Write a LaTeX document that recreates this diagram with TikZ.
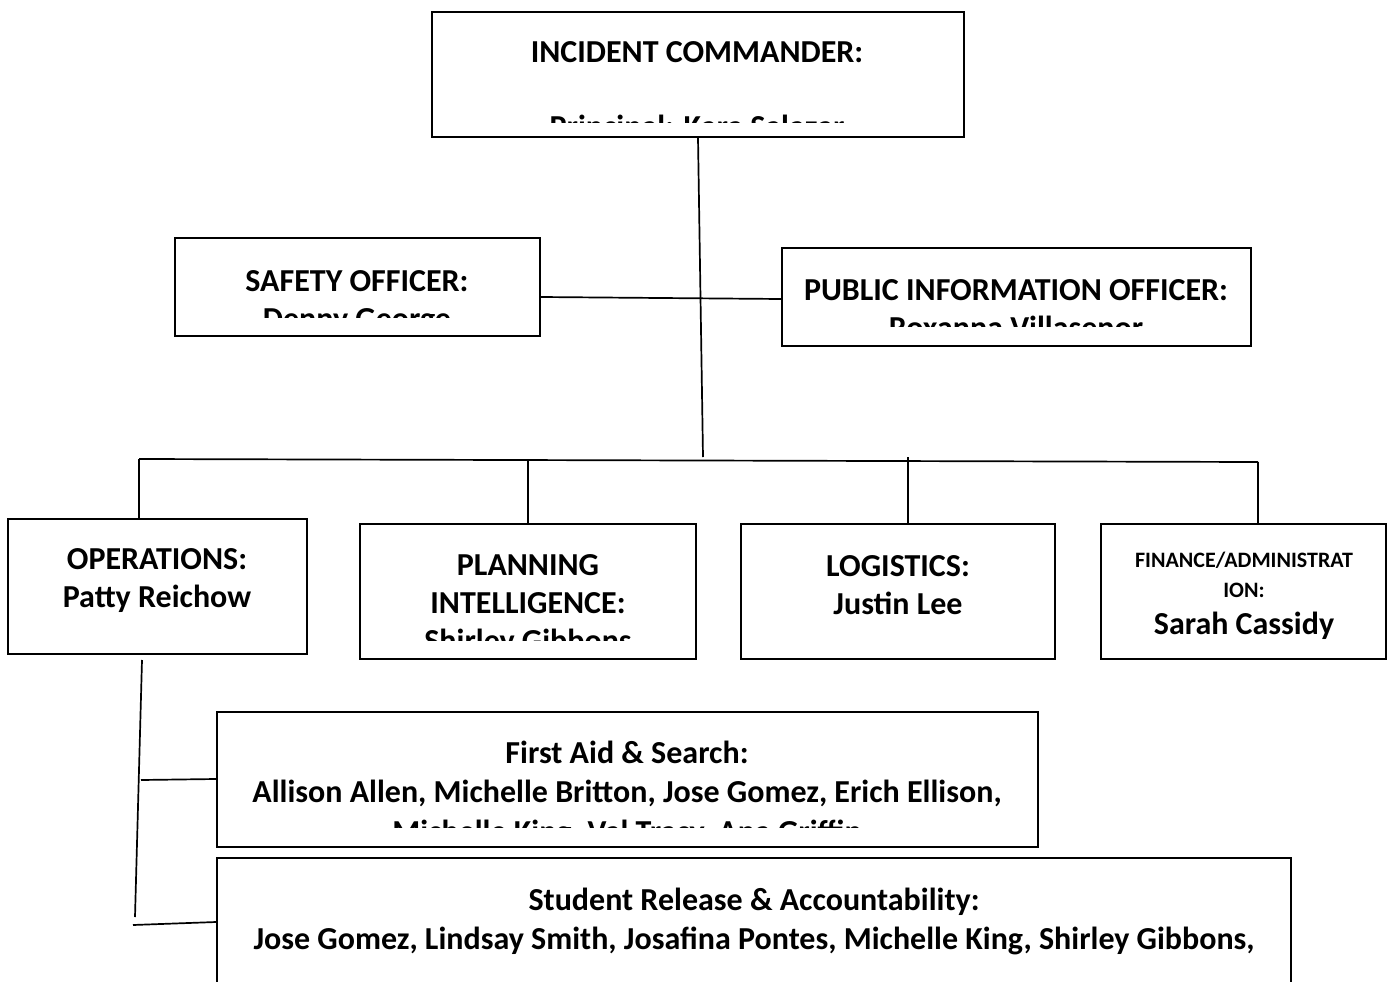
\documentclass[tikz,border=0pt]{standalone}
\usepackage{fontspec}
\setmainfont{Carlito}
\begin{document}
\begin{tikzpicture}[x=1pt,y=-1pt,
  box/.style={draw=black, line width=1.7pt, rectangle, inner sep=0pt},
  conn/.style={draw=black, line width=1.7pt},
  txt/.style={anchor=base, inner sep=0pt, font=\fontsize{32}{38}\selectfont\bfseries},
  smalltxt/.style={anchor=base, inner sep=0pt, font=\fontsize{22}{26}\selectfont\bfseries}]
\clip (0,0) rectangle (1387,982);
\fill[white] (0,0) rectangle (1387,982);

% boxes
\node[box, minimum width=532pt, minimum height=125pt] (ic) at (698,74.5) {};
\node[box, minimum width=365pt, minimum height=98pt] (safety) at (357.5,287) {};
\node[box, minimum width=469pt, minimum height=98pt] (pio) at (1016.5,297) {};
\node[box, minimum width=299pt, minimum height=135pt] (ops) at (157.5,586.5) {};
\node[box, minimum width=336pt, minimum height=135pt] (plan) at (528,591.5) {};
\node[box, minimum width=314pt, minimum height=135pt] (log) at (898,591.5) {};
\node[box, minimum width=285pt, minimum height=135pt] (fin) at (1243.5,591.5) {};
\node[box, minimum width=821pt, minimum height=135pt] (aid) at (627.5,779.5) {};
\node[box, minimum width=1074pt, minimum height=142pt] (stu) at (754,929) {};

% texts
\node[txt] (ic1) at (697,63) {INCIDENT COMMANDER:};
\begin{scope}
\clip (432,12) rectangle (964,122);
\node[txt] (ic2) at (697,137) {Principal: Kara Salazar};
\end{scope}

\node[txt] (sa1) at (357,291) {SAFETY OFFICER:};
\begin{scope}
\clip (175,238) rectangle (540,317);
\node[txt] (sa2) at (357,329) {Denny George};
\end{scope}

\node[txt] (pi1) at (1016,300) {PUBLIC INFORMATION OFFICER:};
\begin{scope}
\clip (782,248) rectangle (1251,326);
\node[txt] (pi2) at (1016,338) {Roxanna Villasenor};
\end{scope}

\node[txt] (op1) at (157,569) {OPERATIONS:};
\node[txt] (op2) at (157,607) {Patty Reichow};

\node[txt] (pl1) at (528,575) {PLANNING};
\node[txt] (pl2) at (528,613) {INTELLIGENCE:};
\begin{scope}
\clip (360,524) rectangle (696,640);
\node[txt] (pl3) at (528,651) {Shirley Gibbons};
\end{scope}

\node[txt] (lo1) at (898,576) {LOGISTICS:};
\node[txt] (lo2) at (898,614) {Justin Lee};

\node[smalltxt] (fi1) at (1244,567) {FINANCE/ADMINISTRAT};
\node[smalltxt] (fi2) at (1244,597) {ION:};
\node[txt] (fi3) at (1244,634) {Sarah Cassidy};

\node[txt] (ai1) at (627,763) {First Aid \& Search:};
\node[txt] (ai2) at (627,802) {Allison Allen, Michelle Britton, Jose Gomez, Erich Ellison,};
\begin{scope}
\clip (217,712) rectangle (1038,827);
\node[txt] (ai3) at (627,842) {Michelle King, Val Tracy, Ana Griffin};
\end{scope}

\node[txt] (st1) at (754,910) {Student Release \& Accountability:};
\node[txt] (st2) at (754,949) {Jose Gomez, Lindsay Smith, Josafina Pontes, Michelle King, Shirley Gibbons,};

% connectors
\coordinate (icend) at (703,457);
\coordinate (hbl) at (139,459);
\coordinate (hbr) at (1258,462);
\coordinate (logtop) at (908,457);
\coordinate (opstop) at (142,660);
\coordinate (opsbot) at (135,917);
\coordinate (aidfrom) at (141,780);
\coordinate (stufrom) at (133,925);

\draw[conn] (ic.south) -- (icend);
\draw[conn] ([yshift=-10pt]safety.east) -- ([yshift=-2pt]pio.west);
\draw[conn] (hbl) -- (hbr);
\draw[conn] (hbl) -- (hbl |- ops.north);
\draw[conn] (plan.north |- 0,461) -- (plan.north);
\draw[conn] (logtop) -- (logtop |- log.north);
\draw[conn] (hbr) -- (hbr |- fin.north);
\draw[conn] (opstop) -- (opsbot);
\draw[conn] (aidfrom) -- (aid.west |- 0,779);
\draw[conn] (stufrom) -- (stu.west |- 0,922);
\end{tikzpicture}
\end{document}
